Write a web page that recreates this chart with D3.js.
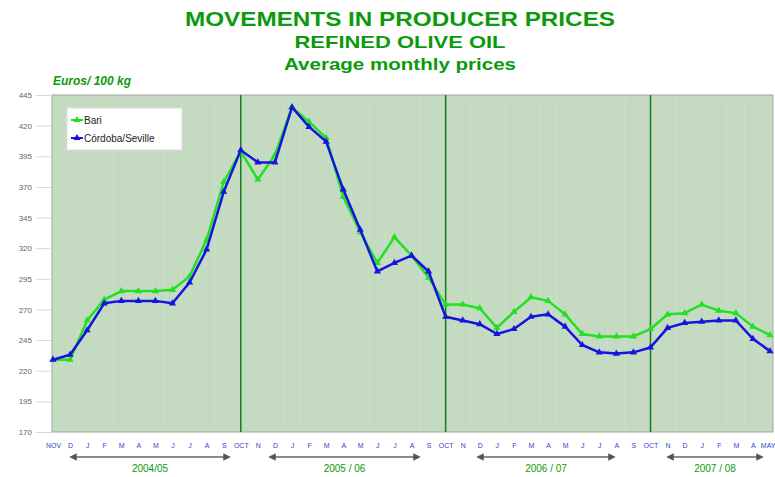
<!DOCTYPE html>
<html>
<head>
<meta charset="utf-8">
<script src="https://cdn.jsdelivr.net/npm/d3@7"></script>
<style>
  body { margin: 0; background: #ffffff; }
  svg { display: block; font-family: Arial, "Liberation Sans", sans-serif; }
</style>
</head>
<body>
<svg id="chart" width="775" height="477"></svg>
<script>
// -- Data -- //
// Month labels (Nov 2004 .. May 2008)
let monthLabels = [
  "NOV", "D", "J", "F", "M", "A", "M", "J", "J", "A", "S",
  "OCT", "N", "D", "J", "F", "M", "A", "M", "J", "J", "A", "S",
  "OCT", "N", "D", "J", "F", "M", "A", "M", "J", "J", "A", "S",
  "OCT", "N", "D", "J", "F", "M", "A", "MAY"
];
// Prices, euros / 100 kg
let bari = [
  229, 229, 261, 278, 285, 285, 285, 286, 297, 327, 374,
  399, 376, 396, 435, 423, 410, 362, 333, 308, 329, 314, 296,
  274, 274, 271, 255, 268, 280, 277, 266, 250, 248, 248, 248,
  254, 266, 267, 274, 269, 267, 256, 249
];
let cordoba = [
  229, 233, 253, 275, 277, 277, 277, 275, 292, 319, 366,
  400, 390, 390, 435, 419, 407, 368, 335, 301, 308, 314, 301,
  264, 261, 258, 250, 254, 264, 266, 256, 241, 235, 234, 235,
  239, 255, 259, 260, 261, 261, 246, 236
];
// Campaign boundaries (index of OCT) and campaign labels
let campaignStarts = [11, 23, 35];
let campaigns = ["2004/05", "2005 / 06", "2006 / 07", "2007 / 08"];
let yTicks = [170, 195, 220, 245, 270, 295, 320, 345, 370, 395, 420, 445];
let seriesNames = ["Bari", "Córdoba/Seville"];

// -- Chart -- //
let svg = d3.select("#chart");
let plot = {left: 52, right: 773, top: 95, bottom: 432};
let green = "#0b9a0b";

let x = d3.scaleLinear().domain([0, monthLabels.length - 1]).range([plot.left + 1, 770]);
let y = d3.scaleLinear().domain([170, 445]).range([plot.bottom, plot.top]);

// Titles
let titles = [
  {t: "MOVEMENTS IN PRODUCER PRICES", y: 26, size: 20, w: 430},
  {t: "REFINED OLIVE OIL", y: 48, size: 17, w: 211},
  {t: "Average monthly prices", y: 70, size: 17, w: 232},
];
svg.selectAll("text.title").data(titles).join("text")
  .attr("class", "title")
  .attr("x", 400).attr("y", d => d.y)
  .attr("text-anchor", "middle")
  .attr("font-size", d => d.size)
  .attr("font-weight", "bold")
  .attr("fill", green)
  .attr("textLength", d => d.w)
  .attr("lengthAdjust", "spacingAndGlyphs")
  .text(d => d.t);

svg.append("text")
  .attr("x", 53).attr("y", 85)
  .attr("font-size", 12).attr("font-weight", "bold").attr("font-style", "italic")
  .attr("fill", green)
  .text("Euros/ 100 kg");

// Plot background
svg.append("rect")
  .attr("x", plot.left).attr("y", plot.top)
  .attr("width", plot.right - plot.left).attr("height", plot.bottom - plot.top)
  .attr("fill", "#c4dbc1").attr("stroke", "#a0a8a0").attr("stroke-width", 1);

// Faint monthly stripes
svg.append("g").selectAll("line").data(d3.range(monthLabels.length))
  .join("line")
  .attr("x1", d => x(d) + 8.5).attr("x2", d => x(d) + 8.5)
  .attr("y1", plot.top + 2).attr("y2", plot.bottom - 1)
  .attr("stroke", "#cadfc7").attr("stroke-width", 1);

// Y axis
let yAxis = svg.append("g")
  .attr("transform", `translate(${plot.left},0)`)
  .call(d3.axisLeft(y).tickValues(yTicks).tickSize(16).tickPadding(4));
yAxis.select(".domain").remove();
yAxis.selectAll("line").attr("stroke", "#d8d8d8");
yAxis.selectAll("text").attr("font-size", 8).attr("fill", "#666666")
  .attr("font-family", "Arial, sans-serif");

// Campaign separators
svg.append("g").selectAll("line").data(campaignStarts).join("line")
  .attr("x1", d => x(d)).attr("x2", d => x(d))
  .attr("y1", plot.top).attr("y2", plot.bottom)
  .attr("stroke", "#1a7a1a").attr("stroke-width", 1.5);

// X axis (month labels)
let xAxis = svg.append("g")
  .attr("transform", `translate(0,${plot.bottom})`)
  .call(d3.axisBottom(x).tickValues(d3.range(monthLabels.length))
    .tickFormat(i => monthLabels[i]).tickSize(0).tickPadding(11));
xAxis.select(".domain").remove();
xAxis.selectAll("text").attr("font-size", 7).attr("fill", "#3344cc")
  .attr("font-family", "Arial, sans-serif");
xAxis.selectAll("text").filter((d, i) => i === monthLabels.length - 1)
  .attr("text-anchor", "end").attr("dx", 5);

// Campaign arrows and labels
let arrows = [[73, 227], [272, 417], [480, 612], [670, 760]];
let defs = svg.append("defs");
defs.append("marker").attr("id", "arr").attr("viewBox", "0 0 10 10")
  .attr("refX", 5).attr("refY", 5).attr("markerWidth", 5).attr("markerHeight", 5)
  .attr("orient", "auto-start-reverse")
  .append("path").attr("d", "M0,0 L10,5 L0,10 z").attr("fill", "#555");
svg.append("g").selectAll("line").data(arrows).join("line")
  .attr("x1", d => d[0]).attr("x2", d => d[1])
  .attr("y1", 457).attr("y2", 457)
  .attr("stroke", "#666").attr("stroke-width", 1.5)
  .attr("marker-start", "url(#arr)").attr("marker-end", "url(#arr)");
svg.append("g").selectAll("text").data(campaigns).join("text")
  .attr("x", (d, i) => (arrows[i][0] + arrows[i][1]) / 2)
  .attr("y", 472)
  .attr("text-anchor", "middle")
  .attr("font-size", 10)
  .attr("fill", green)
  .text(d => d);

// Series
let series = [
  {name: seriesNames[0], values: bari, colour: "#22e022"},
  {name: seriesNames[1], values: cordoba, colour: "#1414e0"},
];
let line = d3.line().x((d, i) => x(i)).y(d => y(d));
let triangle = d3.symbol().type(d3.symbolTriangle).size(22);
series.forEach(s => {
  let g = svg.append("g");
  g.append("path").datum(s.values)
    .attr("d", line)
    .attr("fill", "none").attr("stroke", s.colour).attr("stroke-width", 2.5)
    .attr("stroke-linejoin", "round");
  g.selectAll("path.pt").data(s.values).join("path")
    .attr("class", "pt")
    .attr("d", triangle)
    .attr("transform", (d, i) => `translate(${x(i)},${y(d)})`)
    .attr("fill", s.colour);
});

// Legend
let legend = svg.append("g").attr("transform", "translate(67,108)");
legend.append("rect").attr("width", 115).attr("height", 42)
  .attr("fill", "#ffffff").attr("stroke", "#dddddd");
series.forEach((s, i) => {
  let row = legend.append("g").attr("transform", `translate(0,${12 + i * 18})`);
  row.append("line").attr("x1", 4).attr("x2", 16).attr("y1", 0).attr("y2", 0)
    .attr("stroke", s.colour).attr("stroke-width", 2);
  row.append("path").attr("d", triangle).attr("transform", "translate(10,0)")
    .attr("fill", s.colour);
  row.append("text").attr("x", 17).attr("y", 4)
    .attr("font-size", 10).attr("fill", "#222222")
    .text(s.name);
});
</script>
</body>
</html>
